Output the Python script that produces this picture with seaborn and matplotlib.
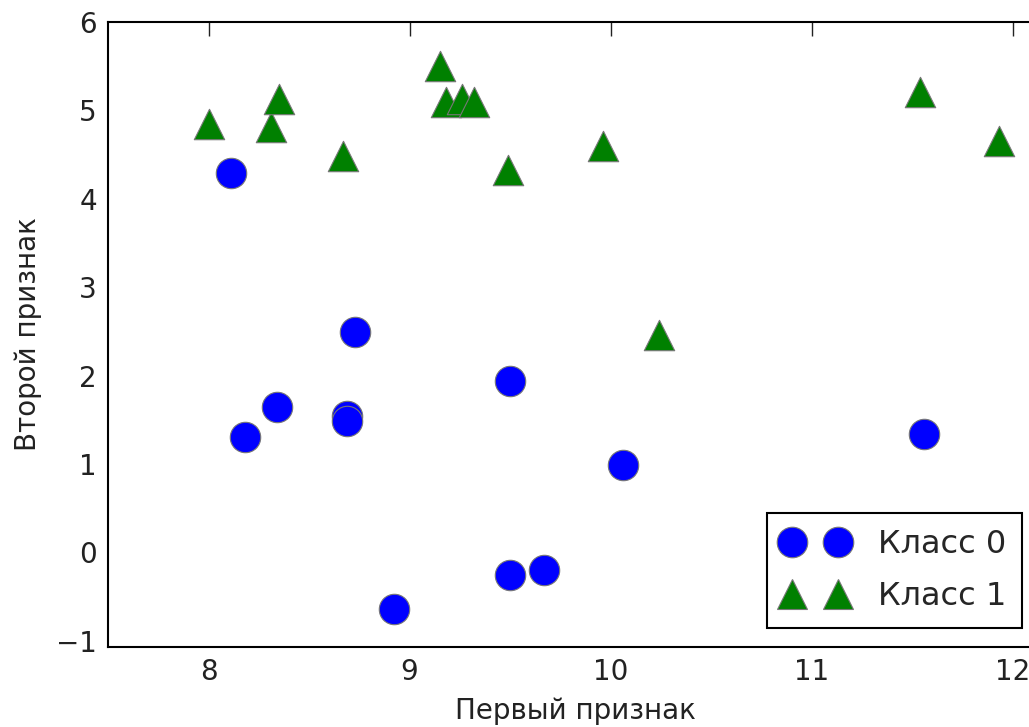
import seaborn as sns
import matplotlib.pyplot as plt
import pandas as pd
from matplotlib.lines import Line2D

# forge-like dataset: two features, two classes
feature1 = [9.96, 11.03, 11.54, 8.69, 8.11, 8.31, 11.93, 9.67, 8.35, 8.67,
            9.18, 10.24, 8.69, 8.92, 9.49, 9.26, 8.00, 8.18, 8.73, 9.32,
            10.06, 9.50, 8.34, 9.50, 9.15, 11.56]
feature2 = [4.60, -0.17, 5.21, 1.54, 4.29, 4.81, 4.65, -0.20, 5.13, 4.48,
            5.09, 2.46, 1.49, -0.64, 4.33, 5.13, 4.85, 1.30, 2.49, 5.10,
            0.99, -0.26, 1.64, 1.94, 5.50, 1.34]
labels = [1, 0, 1, 0, 0, 1, 1, 0, 1, 1, 1, 1, 0, 0, 1, 1, 1, 0, 0, 1,
          0, 0, 0, 0, 1, 0]
class_names = ["Класс 0", "Класс 1"]
class_colors = ["#0000ff", "#008000"]
class_markers = ["o", "^"]

df = pd.DataFrame({"x": feature1, "y": feature2, "cls": labels})

sns.set_style("white")
plt.rcParams['font.family'] = ['DejaVu Sans']

fig = plt.figure(figsize=(10.29, 7.27), dpi=100)
ax = fig.add_axes([108 / 1029, 80 / 727, 935 / 1029, 625 / 727])

for c in [0, 1]:
    sns.scatterplot(
        data=df[df.cls == c], x="x", y="y",
        color=class_colors[c], marker=class_markers[c],
        s=480, edgecolor="#777777", linewidth=0.8,
        legend=False, ax=ax, zorder=3
    )

ax.set_xlim(7.5, 12.15)
ax.set_ylim(-1.07, 6)
ax.set_xticks([8, 9, 10, 11, 12])
ax.set_yticks([-1, 0, 1, 2, 3, 4, 5, 6])
ax.set_yticklabels(["\u22121", "0", "1", "2", "3", "4", "5", "6"])
ax.tick_params(direction="in", length=10, width=1, top=True, right=True,
               labelsize=20, pad=8, colors="#222222")
for sp in ax.spines.values():
    sp.set_color("black")
    sp.set_linewidth(1.5)

ax.set_xlabel("Первый признак", fontsize=20, color="#222222", labelpad=8)
ax.set_ylabel("Второй признак", fontsize=20, color="#222222", labelpad=10)

handles = [
    Line2D([], [], linestyle="none", marker=class_markers[c], markersize=22,
           markerfacecolor=class_colors[c], markeredgecolor="#777777",
           markeredgewidth=0.8)
    for c in [0, 1]
]
leg = ax.legend(handles, class_names, numpoints=2, loc="lower right",
                bbox_to_anchor=(1022 / 1029, 99 / 727),
                bbox_transform=fig.transFigure, borderaxespad=0,
                fontsize=23, fancybox=False, framealpha=1,
                handlelength=2.04, handletextpad=0.93, borderpad=0.5,
                labelspacing=0.65)
leg.get_frame().set_edgecolor("black")
leg.get_frame().set_linewidth(1.5)

fig.savefig("out.png", dpi=100)
